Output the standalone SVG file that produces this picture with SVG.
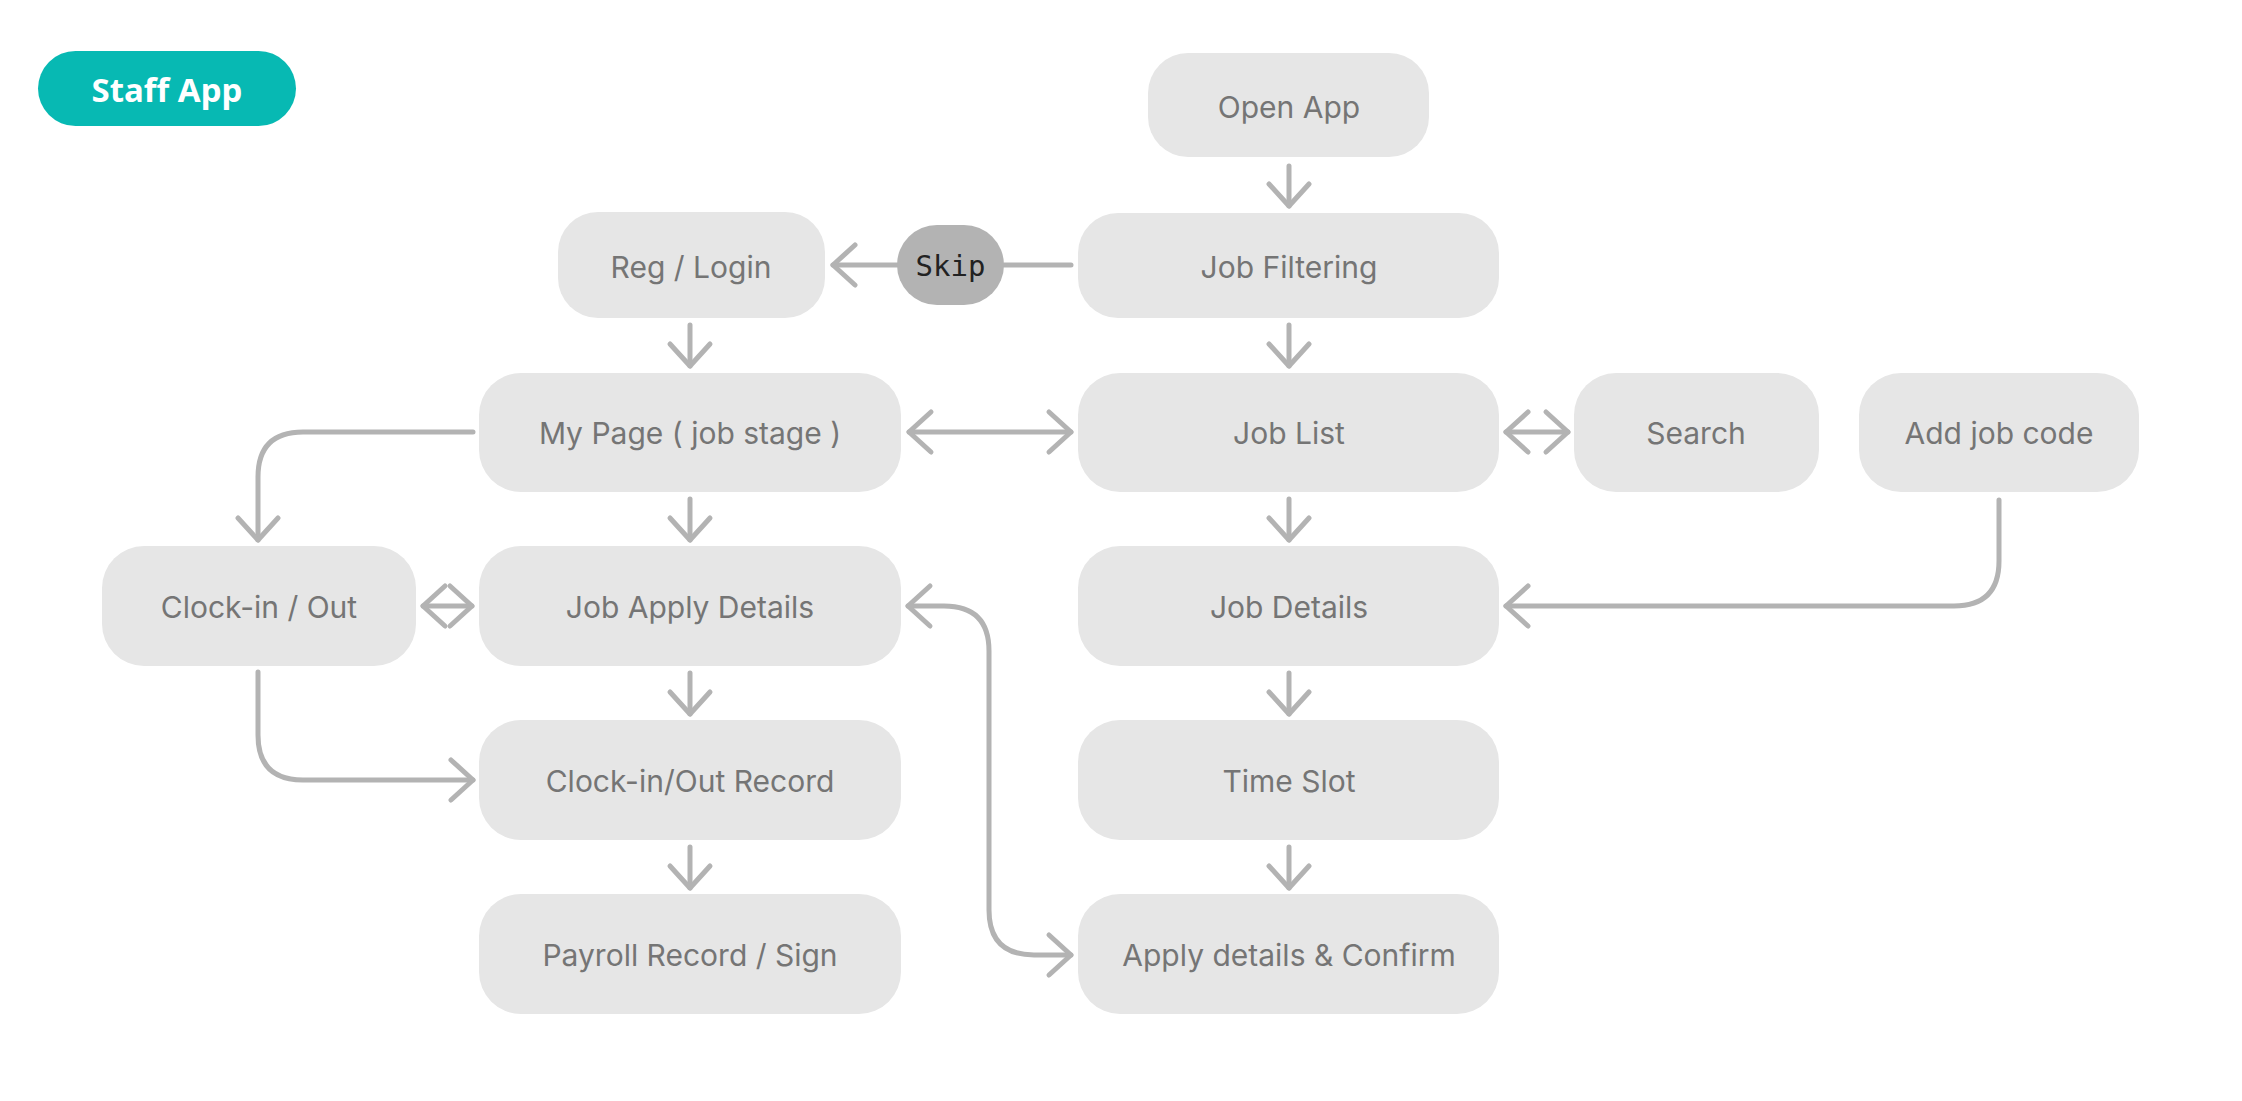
<svg xmlns="http://www.w3.org/2000/svg" width="2242" height="1101" viewBox="0 0 2242 1101">
<style>
.n{fill:#e6e6e6}
.t{font-family:Inter,"Liberation Sans",sans-serif;font-size:30px;fill:#757575;text-anchor:middle;dominant-baseline:central}
.c{fill:none;stroke:#b3b3b3;stroke-width:5;stroke-linecap:round;stroke-linejoin:round}
</style>
<defs>
<marker id="a" markerUnits="userSpaceOnUse" markerWidth="60" markerHeight="60" viewBox="-30 -30 60 60" refX="0" refY="0" orient="auto-start-reverse" overflow="visible">
<path d="M-22,-20 L0,0 L-22,20" fill="none" stroke="#b3b3b3" stroke-width="5" stroke-linecap="round" stroke-linejoin="round"/>
</marker>
</defs>
<rect width="2242" height="1101" fill="#fff"/>
<g id="staff-app"><rect x="38" y="51" width="258" height="75" rx="37.5" fill="#07b9b3"/><text x="167" y="89" font-family="'Noto Sans','Liberation Sans',sans-serif" font-weight="bold" font-size="33" fill="#fff" text-anchor="middle" dominant-baseline="central">Staff App</text></g>
<g id="connectors">
<path class="c" marker-end="url(#a)" d="M1289,166 V206"/>
<path class="c" d="M1004,265 H1071"/>
<path class="c" marker-end="url(#a)" d="M897,265 H833"/>
<path class="c" marker-end="url(#a)" d="M690,325 V366"/>
<path class="c" marker-start="url(#a)" marker-end="url(#a)" d="M909,432 H1071"/>
<path class="c" marker-end="url(#a)" d="M1289,325 V366"/>
<path class="c" marker-start="url(#a)" marker-end="url(#a)" d="M1506,432 H1568"/>
<path class="c" marker-end="url(#a)" d="M473,432 H303 Q258,432 258,477 V540"/>
<path class="c" marker-end="url(#a)" d="M690,499 V540"/>
<path class="c" marker-end="url(#a)" d="M1289,499 V540"/>
<path class="c" marker-start="url(#a)" marker-end="url(#a)" d="M423,606 H472"/>
<path class="c" marker-end="url(#a)" d="M1999,500 V561 Q1999,606 1954,606 H1506"/>
<path class="c" marker-start="url(#a)" marker-end="url(#a)" d="M908,606 H944 Q989,606 989,651 V910 Q989,955 1034,955 H1071"/>
<path class="c" marker-end="url(#a)" d="M690,673 V714"/>
<path class="c" marker-end="url(#a)" d="M1289,673 V714"/>
<path class="c" marker-end="url(#a)" d="M258,672 V735 Q258,780 303,780 H473"/>
<path class="c" marker-end="url(#a)" d="M690,847 V888"/>
<path class="c" marker-end="url(#a)" d="M1289,847 V888"/>
</g>
<g id="open-app"><rect class="n" x="1148" y="53" width="281" height="104" rx="40"/><text class="t" x="1289" y="107">Open App</text></g>
<g id="reg-login"><rect class="n" x="558" y="212" width="267" height="106" rx="40"/><text class="t" x="691" y="267">Reg / Login</text></g>
<g id="skip"><rect x="897" y="225" width="107" height="80" rx="40" fill="#b3b3b3"/><text x="950.5" y="266" font-family="'DejaVu Sans Mono','Liberation Mono',monospace" font-size="29" fill="#222" text-anchor="middle" dominant-baseline="central">Skip</text></g>
<g id="job-filtering"><rect class="n" x="1078" y="213" width="421" height="105" rx="40"/><text class="t" x="1289" y="267">Job Filtering</text></g>
<g id="my-page"><rect class="n" x="479" y="373" width="422" height="119" rx="42"/><text class="t" x="690" y="433">My Page ( job stage )</text></g>
<g id="job-list"><rect class="n" x="1078" y="373" width="421" height="119" rx="42"/><text class="t" x="1289" y="433">Job List</text></g>
<g id="search"><rect class="n" x="1574" y="373" width="245" height="119" rx="42"/><text class="t" x="1696" y="433">Search</text></g>
<g id="add-job-code"><rect class="n" x="1859" y="373" width="280" height="119" rx="42"/><text class="t" x="1999" y="433">Add job code</text></g>
<g id="clock-in-out"><rect class="n" x="102" y="546" width="314" height="120" rx="42"/><text class="t" x="259" y="607">Clock-in / Out</text></g>
<g id="job-apply-details"><rect class="n" x="479" y="546" width="422" height="120" rx="42"/><text class="t" x="690" y="607">Job Apply Details</text></g>
<g id="job-details"><rect class="n" x="1078" y="546" width="421" height="120" rx="42"/><text class="t" x="1289" y="607">Job Details</text></g>
<g id="clock-record"><rect class="n" x="479" y="720" width="422" height="120" rx="42"/><text class="t" x="690" y="781">Clock-in/Out Record</text></g>
<g id="time-slot"><rect class="n" x="1078" y="720" width="421" height="120" rx="42"/><text class="t" x="1289" y="781">Time Slot</text></g>
<g id="payroll"><rect class="n" x="479" y="894" width="422" height="120" rx="42"/><text class="t" x="690" y="955">Payroll Record / Sign</text></g>
<g id="apply-confirm"><rect class="n" x="1078" y="894" width="421" height="120" rx="42"/><text class="t" x="1289" y="955">Apply details &amp; Confirm</text></g>
</svg>
